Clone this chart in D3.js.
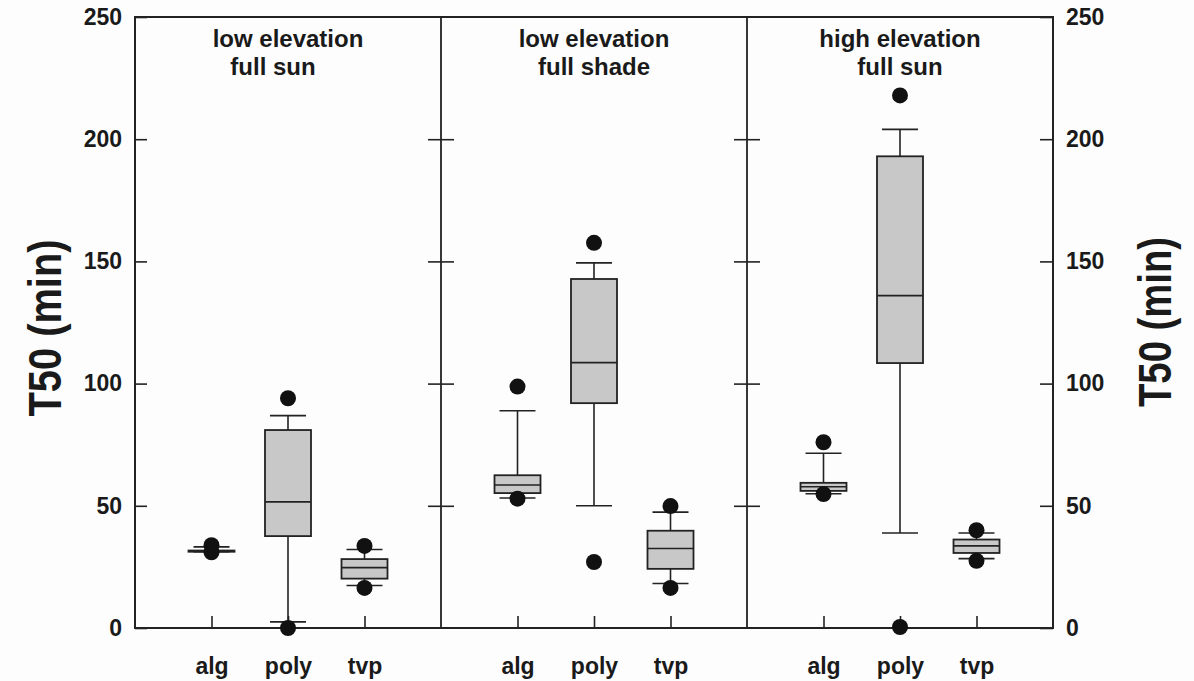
<!DOCTYPE html>
<html>
<head>
<meta charset="utf-8">
<script src="https://cdn.jsdelivr.net/npm/d3@7"></script>
<style>
  body { margin: 0; background: #fdfdfd; }
  svg { display: block; }
  text { font-family: "Liberation Sans", Arial, sans-serif; font-weight: bold; fill: #1a1a1a; }
</style>
</head>
<body>
<div id="chart"></div>
<script>
// panel titles (two lines each)
const panelTitles = [
    ["low elevation", "full sun"],
    ["low elevation", "full shade"],
    ["high elevation", "full sun"]
];
const groups = ["alg", "poly", "tvp"];
const yTicks = [0, 50, 100, 150, 200, 250];

// box statistics, one row per panel, one value per group
const whiskerLo = [[31.2, 2.5, 17.4], [53.2, 50.0, 18.2], [54.9, 38.9, 28.4]];
const q1        = [[31.2, 37.6, 20.2], [55.2, 92.0, 24.2], [56.1, 108.4, 30.7]];
const median    = [[31.5, 51.6, 24.7], [58.5, 108.6, 32.5], [57.8, 136.0, 33.6]];
const q3        = [[31.7, 81.0, 28.2], [62.5, 142.8, 39.8], [59.4, 193.0, 36.2]];
const whiskerHi = [[33.2, 86.9, 32.1], [88.9, 149.4, 47.4], [71.5, 204.0, 38.9]];
const outliers  = [
    [[33.9, 31.0], [94.0, 0.0], [33.6, 16.4]],
    [[98.8, 52.9], [157.6, 27.0], [49.9, 16.4]],
    [[76.0, 54.8], [217.9, 0.4], [40.0, 27.5]]
];

const W = 1194, H = 681;
const margin = {top: 17, right: 141, bottom: 53, left: 135};
const width = W - margin.left - margin.right;
const height = H - margin.top - margin.bottom;
const lineColor = "#222";

const svg = d3.select("#chart").append("svg")
    .attr("width", W)
    .attr("height", H);

const g = svg.append("g")
    .attr("transform", `translate(${margin.left},${margin.top})`);

const yScale = d3.scaleLinear().domain([0, 250]).range([height, 0]);

const panelScale = d3.scaleBand()
    .domain(d3.range(panelTitles.length))
    .range([0, width])
    .padding(0);

const groupScale = d3.scalePoint()
    .domain(groups)
    .range([0, panelScale.bandwidth()])
    .padding(1);

const boxW = 46, capW = 36, dotR = 8;

// build table of boxes
const boxes = [];
panelTitles.forEach((t, p) => {
    groups.forEach((grp, i) => {
        boxes.push({
            panel: p, group: grp,
            lo: whiskerLo[p][i], q1: q1[p][i], med: median[p][i],
            q3: q3[p][i], hi: whiskerHi[p][i], out: outliers[p][i]
        });
    });
});

function styleAxis(sel) {
    sel.select(".domain").remove();
    sel.selectAll(".tick line").attr("stroke", lineColor).attr("stroke-width", 1.6);
    sel.selectAll(".tick text").style("font-size", "23px").attr("fill", "#1a1a1a");
}

// left axis
g.append("g")
    .call(d3.axisLeft(yScale).tickValues(yTicks).tickSizeInner(-12).tickSizeOuter(0).tickPadding(13))
    .call(styleAxis);

// right axis
g.append("g")
    .attr("transform", `translate(${width},0)`)
    .call(d3.axisRight(yScale).tickValues(yTicks).tickSizeInner(-13).tickSizeOuter(0).tickPadding(13))
    .call(styleAxis);

// panel dividers with ticks on both sides
panelTitles.slice(1).forEach((t, k) => {
    const x = panelScale(k + 1);
    const dg = g.append("g").attr("transform", `translate(${x},0)`);
    dg.append("line")
        .attr("y1", 0).attr("y2", height)
        .attr("stroke", lineColor).attr("stroke-width", 1.8);
    dg.append("g")
        .call(d3.axisLeft(yScale).tickValues(yTicks.slice(1, -1)).tickSize(13).tickFormat(""))
        .call(styleAxis);
    dg.append("g")
        .call(d3.axisRight(yScale).tickValues(yTicks.slice(1, -1)).tickSize(13).tickFormat(""))
        .call(styleAxis);
});

// bottom axes per panel
panelTitles.forEach((t, p) => {
    g.append("g")
        .attr("transform", `translate(${panelScale(p)},${height})`)
        .call(d3.axisBottom(groupScale).tickSizeInner(-12).tickSizeOuter(0).tickPadding(30))
        .call(styleAxis);
});

// frame
g.append("rect")
    .attr("width", width).attr("height", height)
    .attr("fill", "none").attr("stroke", lineColor).attr("stroke-width", 2);

// panel titles
panelTitles.forEach((lines, p) => {
    const cx = panelScale(p) + panelScale.bandwidth() / 2;
    lines.forEach((line, j) => {
        g.append("text")
            .attr("x", cx + (p === 0 && j === 1 ? -15 : 0))
            .attr("y", 30 + j * 27.5)
            .attr("text-anchor", "middle")
            .style("font-size", "24px")
            .text(line);
    });
});

// boxes
const bg = g.selectAll(".box")
    .data(boxes)
    .enter()
    .append("g")
        .attr("class", "box")
        .attr("transform", d => `translate(${panelScale(d.panel) + groupScale(d.group)},0)`);

// whisker stems
bg.append("line")
    .attr("y1", d => yScale(d.hi)).attr("y2", d => yScale(d.q3))
    .attr("stroke", lineColor).attr("stroke-width", 1.6);
bg.append("line")
    .attr("y1", d => yScale(d.q1)).attr("y2", d => yScale(d.lo))
    .attr("stroke", lineColor).attr("stroke-width", 1.6);

// caps
bg.append("line")
    .attr("x1", -capW / 2).attr("x2", capW / 2)
    .attr("y1", d => yScale(d.hi)).attr("y2", d => yScale(d.hi))
    .attr("stroke", lineColor).attr("stroke-width", 1.6);
bg.append("line")
    .attr("x1", -capW / 2).attr("x2", capW / 2)
    .attr("y1", d => yScale(d.lo)).attr("y2", d => yScale(d.lo))
    .attr("stroke", lineColor).attr("stroke-width", 1.6);

// box body
bg.append("rect")
    .attr("x", -boxW / 2)
    .attr("width", boxW)
    .attr("y", d => yScale(d.q3))
    .attr("height", d => Math.max(yScale(d.q1) - yScale(d.q3), 0.5))
    .attr("fill", "#c8c8c8")
    .attr("stroke", lineColor).attr("stroke-width", 1.8);

// median
bg.append("line")
    .attr("x1", -boxW / 2).attr("x2", boxW / 2)
    .attr("y1", d => yScale(d.med)).attr("y2", d => yScale(d.med))
    .attr("stroke", lineColor).attr("stroke-width", 1.6);

// outlier dots
bg.selectAll("circle")
    .data(d => d.out)
    .enter()
    .append("circle")
        .attr("cx", 0)
        .attr("cy", v => yScale(v))
        .attr("r", dotR)
        .attr("fill", "#111");

// y axis titles
svg.append("text")
    .attr("transform", "translate(61,328) rotate(-90)")
    .attr("text-anchor", "middle")
    .attr("textLength", 177)
    .attr("lengthAdjust", "spacingAndGlyphs")
    .style("font-size", "46px")
    .text("T50 (min)");

svg.append("text")
    .attr("transform", "translate(1171,322) rotate(-90)")
    .attr("text-anchor", "middle")
    .attr("textLength", 170)
    .attr("lengthAdjust", "spacingAndGlyphs")
    .style("font-size", "46px")
    .text("T50 (min)");
</script>
</body>
</html>
